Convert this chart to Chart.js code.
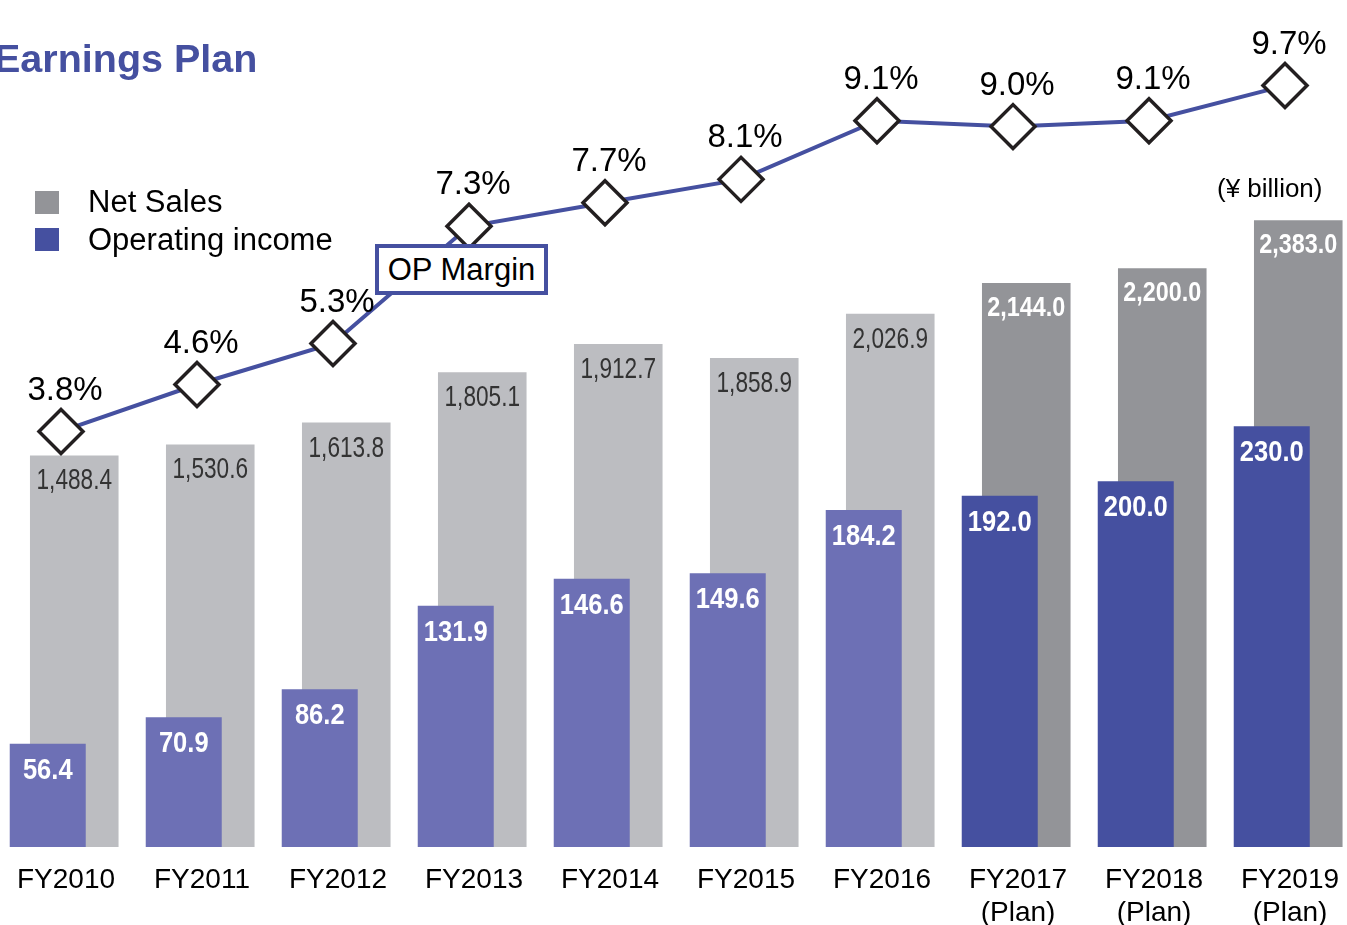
<!DOCTYPE html>
<html>
<head>
<meta charset="utf-8">
<script src="https://cdn.jsdelivr.net/npm/chart.js@4"></script>
<style>
  html, body { margin: 0; padding: 0; background: #fff; overflow: hidden; }
  body { width: 1347px; height: 925px; position: relative; font-family: 'Liberation Sans', Arial, sans-serif; }
  #wrap { position: absolute; left: -7px; top: 0; width: 1360px; height: 925px; }
  .txt { position: absolute; line-height: 1; white-space: nowrap; color: #000; z-index: 2; }
  #title { left: -6px; top: 39px; font-size: 39.5px; font-weight: bold; color: #4550a0; }
  .sq { position: absolute; width: 24px; height: 23px; z-index: 2; }
  #opbox { position: absolute; left: 375px; top: 244px; width: 173px; height: 51px; box-sizing: border-box;
           border: 4px solid #4550a0; background: #fff; z-index: 2; display: flex; align-items: center;
           justify-content: center; font-size: 31px; }
</style>
</head>
<body>
<div id="title" class="txt">Earnings Plan</div>
<div class="sq" style="left:35px; top:191px; background:#939498"></div>
<div class="txt" style="left:88px; top:186px; font-size:31px">Net Sales</div>
<div class="sq" style="left:35px; top:228px; background:#4550a0"></div>
<div class="txt" style="left:88px; top:224px; font-size:31px">Operating income</div>
<div class="txt" style="left:1217px; top:175px; font-size:26px">(¥ billion)</div>
<div id="opbox">OP Margin</div>
<div id="wrap"><canvas id="grafico"></canvas></div>
<script>
// Dados (¥ billion)
const categories = ['FY2010', 'FY2011', 'FY2012', 'FY2013', 'FY2014', 'FY2015', 'FY2016', 'FY2017', 'FY2018', 'FY2019'];
const isPlan = [false, false, false, false, false, false, false, true, true, true];
const netSales = [1488.4, 1530.6, 1613.8, 1805.1, 1912.7, 1858.9, 2026.9, 2144.0, 2200.0, 2383.0];
const operatingIncome = [56.4, 70.9, 86.2, 131.9, 146.6, 149.6, 184.2, 192.0, 200.0, 230.0];
const opMargin = [3.8, 4.6, 5.3, 7.3, 7.7, 8.1, 9.1, 9.0, 9.1, 9.7];

const regular = "'Liberation Sans', Arial, sans-serif";

// Escreve texto comprimido na horizontal (fonte estreita)
function textoEstreito(ctx, txt, x, y, escala) {
    ctx.save();
    ctx.translate(x, y);
    ctx.scale(escala, 1);
    ctx.fillText(txt, 0, 0);
    ctx.restore();
}

// Plugin para escrever os valores nas barras e na linha
const rotulos = {
    id: 'rotulos',
    afterDatasetsDraw(chart) {
        const ctx = chart.ctx;
        ctx.save();
        ctx.textAlign = 'center';
        ctx.textBaseline = 'middle';

        chart.getDatasetMeta(2).data.forEach((bar, i) => {
            const txt = netSales[i].toLocaleString('en-US', { minimumFractionDigits: 1, maximumFractionDigits: 1 });
            if (isPlan[i]) {
                ctx.font = 'bold 28px ' + regular;
                ctx.fillStyle = '#ffffff';
                textoEstreito(ctx, txt, bar.x, bar.y + 25, 0.835);
            } else {
                ctx.font = '29px ' + regular;
                ctx.fillStyle = '#333333';
                textoEstreito(ctx, txt, bar.x, bar.y + 26, 0.78);
            }
        });

        chart.getDatasetMeta(1).data.forEach((bar, i) => {
            ctx.font = 'bold 29px ' + regular;
            ctx.fillStyle = '#ffffff';
            textoEstreito(ctx, operatingIncome[i].toFixed(1), bar.x, bar.y + 27, 0.88);
        });

        chart.getDatasetMeta(0).data.forEach((pt, i) => {
            ctx.font = '33px ' + regular;
            ctx.fillStyle = '#000000';
            ctx.fillText(opMargin[i].toFixed(1) + '%', pt.x + 4, pt.y - 41);
        });
        ctx.restore();
    }
};

function gerarGrafico() {
    const ctx = document.getElementById('grafico').getContext('2d');
    new Chart(ctx, {
        type: 'bar',
        data: {
            labels: categories,
            datasets: [{
                type: 'line',
                label: 'OP Margin',
                data: opMargin,
                yAxisID: 'y3',
                order: 0,
                borderColor: '#4550a0',
                borderWidth: 4,
                pointStyle: 'rectRot',
                pointRadius: 22,
                pointHoverRadius: 22,
                pointBorderWidth: 3.5,
                pointBorderColor: '#231f20',
                pointBackgroundColor: '#ffffff',
                fill: false,
                clip: false
            }, {
                label: 'Operating income',
                data: operatingIncome,
                yAxisID: 'y2',
                order: 1,
                backgroundColor: isPlan.map(p => p ? '#4550a0' : '#6d70b5'),
                categoryPercentage: 0.39,
                barPercentage: 2.866
            }, {
                label: 'Net Sales',
                data: netSales,
                yAxisID: 'y',
                order: 2,
                backgroundColor: isPlan.map(p => p ? '#939498' : '#bcbdc1'),
                categoryPercentage: 0.39,
                barPercentage: 3.34
            }]
        },
        options: {
            responsive: true,
            maintainAspectRatio: false,
            animation: false,
            layout: { padding: 0, autoPadding: false },
            scales: {
                x: {
                    grid: { display: false, drawTicks: false },
                    border: { display: false },
                    afterFit: (scale) => { scale.height = 78; },
                    ticks: {
                        padding: 16,
                        labelOffset: 5,
                        color: '#000',
                        font: { family: regular, size: 28, lineHeight: 1.2 },
                        maxRotation: 0,
                        autoSkip: false,
                        callback: (v, i) => isPlan[i] ? [categories[i], '(Plan)'] : categories[i]
                    }
                },
                y: { display: false, min: 0, max: 3220 },
                y2: { display: false, min: 0, max: 463 },
                y3: { display: false, min: -3.29, max: 11.16 }
            },
            plugins: {
                legend: { display: false },
                tooltip: { enabled: false }
            }
        },
        plugins: [rotulos]
    });
}

window.onload = function () {
    gerarGrafico();
};
</script>
</body>
</html>
